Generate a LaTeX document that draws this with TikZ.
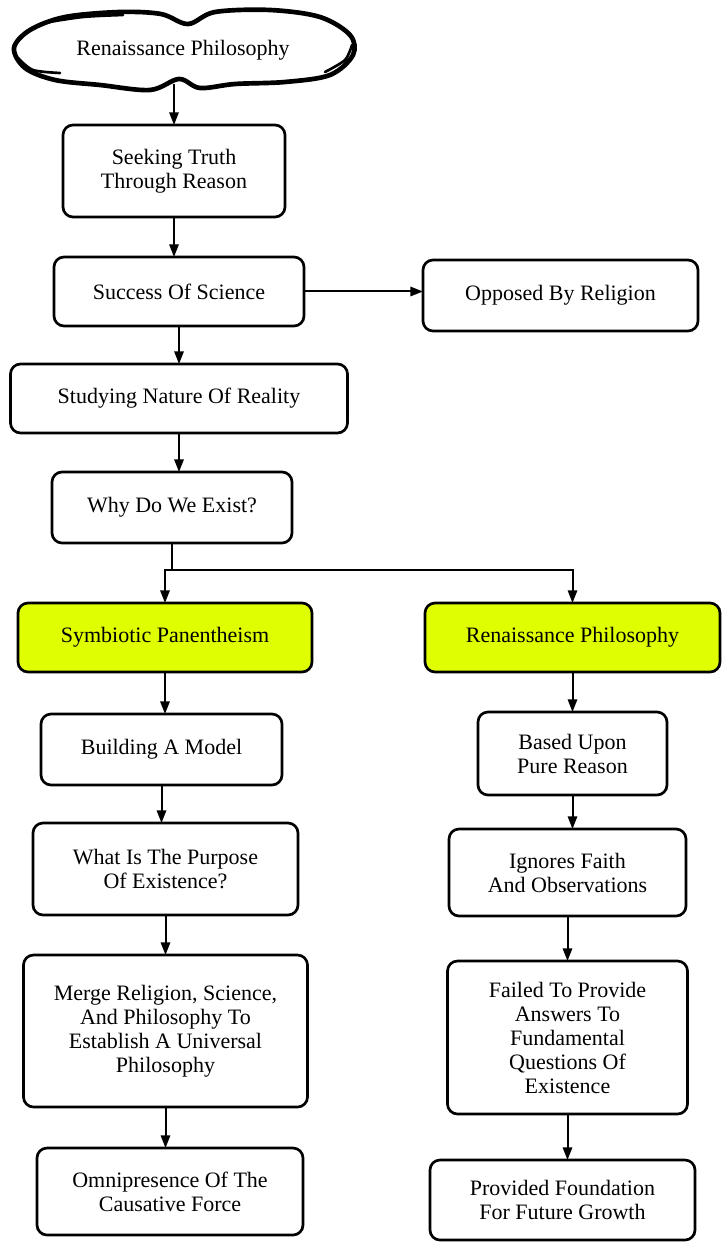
\documentclass[tikz,border=0pt]{standalone}
\usepackage{fontspec}
\setmainfont{Liberation Serif}
\usepackage{tikz}
\usetikzlibrary{arrows.meta,positioning}
\definecolor{cInk}{HTML}{000000}
\definecolor{cMark}{HTML}{DFFF00}
\tikzset{
  box/.style    = {draw=cInk, line width=2pt, rounded corners=7.5pt, align=center,
                   inner sep=3pt, outer sep=0pt, font=\fontsize{16.5}{18}\selectfont},
  hilite/.style = {box, fill=cMark},
  flow/.style   = {-{Triangle[length=9.5pt, width=7pt]}, line width=1.5pt, draw=cInk},
  link/.style   = {line width=1.5pt, draw=cInk},
  cloudline/.style = {draw=cInk, line width=3.5pt, line join=round, line cap=round},
}

\begin{document}
\begin{tikzpicture}
  \useasboundingbox (-137.25pt,37.5pt) rectangle (403.5pt,-895.5pt);
  % top of the chart
  \node[inner sep=0pt, outer sep=0pt, minimum width=257.25pt, minimum height=51pt,
        font=\fontsize{16.5}{18}\selectfont] (cloud) at (0,0)
    {Renaissance Philosophy};
  \begin{scope}[shift={(cloud.center)}, x=0.75pt, y=-0.75pt]
    \draw[cloudline] plot[smooth cycle, tension=0.55] coordinates {
      (-169,-2) (-153,-20) (-118,-33) (-63,-38) (-22,-36) (5,-26)
      (32,-38) (87,-40) (137,-33) (167,-15) (170,5) (147,25)
      (102,32) (52,34) (17,38) (-4,29) (-33,40) (-83,35)
      (-128,30) (-158,18)};
    \draw[cloudline, line width=2pt] plot[smooth] coordinates {
      (-165,8) (-150,20) (-123,23)};
    \draw[cloudline, line width=2pt] plot[smooth] coordinates {
      (142,22) (162,10) (169,-5)};
    \draw[cloudline, line width=2pt] plot[smooth] coordinates {
      (-140,-27) (-100,-33) (-60,-35)};
  \end{scope}
  \node[box, below=30.75pt of cloud, xshift=-6.75pt,
        minimum width=166.5pt, minimum height=69pt] (seek)
    {Seeking Truth\\Through Reason};
  \node[box, below=30pt of seek, xshift=3.75pt,
        minimum width=187.5pt, minimum height=51.75pt] (succ)
    {Success Of Science};
  \node[box, right=89.25pt of succ, yshift=-3pt,
        minimum width=206.25pt, minimum height=53.25pt] (opp)
    {Opposed By Religion};
  \node[box, below=28.5pt of succ,
        minimum width=252.75pt, minimum height=51.75pt] (stud)
    {Studying Nature Of Reality};
  \node[box, below=29.25pt of stud, xshift=-5.25pt,
        minimum width=180pt, minimum height=53.25pt] (why)
    {Why Do We Exist?};
  % two branches
  \node[hilite, below=45pt of why, xshift=-5.25pt,
        minimum width=220.5pt, minimum height=51.75pt] (sym)
    {Symbiotic Panentheism};
  \node[hilite, right=84.75pt of sym,
        minimum width=221.25pt, minimum height=51.75pt] (ren)
    {Renaissance Philosophy};
  \node[box, below=31.5pt of sym, xshift=-2.625pt,
        minimum width=180.75pt, minimum height=53.25pt] (build)
    {Building A Model};
  \node[box, below=28.5pt of build, xshift=3pt,
        minimum width=198.75pt, minimum height=69pt] (purp)
    {What Is The Purpose\\Of Existence?};
  \node[box, below=30pt of purp,
        minimum width=213pt, minimum height=114pt] (merge)
    {Merge Religion, Science,\\And Philosophy To\\Establish A Universal\\Philosophy};
  \node[box, below=30.75pt of merge, xshift=3.375pt,
        minimum width=199.5pt, minimum height=65.25pt] (omni)
    {Omnipresence Of The\\Causative Force};
  \node[box, below=30pt of ren,
        minimum width=141.75pt, minimum height=62.25pt] (based)
    {Based Upon\\Pure Reason};
  \node[box, below=25.5pt of based, xshift=-3.75pt,
        minimum width=177.75pt, minimum height=65.25pt] (ign)
    {Ignores Faith\\And Observations};
  \node[box, below=33.75pt of ign,
        minimum width=180pt, minimum height=114.75pt] (fail)
    {Failed To Provide\\Answers To\\Fundamental\\Questions Of\\Existence};
  \node[box, below=34.5pt of fail, xshift=-3.75pt,
        minimum width=198.75pt, minimum height=60pt] (prov)
    {Provided Foundation\\For Future Growth};
  \coordinate[below=20.25pt of why] (split);
  % connectors
  \draw[flow] (cloud.south -| seek.north) -- (seek.north);
  \draw[flow] (seek) -- (seek |- succ.north);
  \draw[flow] (succ) -- (succ -| opp.west);
  \draw[flow] (succ) -- (succ |- stud.north);
  \draw[flow] (stud) -- (stud |- why.north);
  \draw[link] (why) -- (split);
  \draw[flow] (split) -| (sym);
  \draw[flow] (split) -| (ren);
  \draw[flow] (sym) -- (sym |- build.north);
  \draw[flow] (build) -- (build |- purp.north);
  \draw[flow] (purp) -- (purp |- merge.north);
  \draw[flow] (merge) -- (merge |- omni.north);
  \draw[flow] (ren) -- (ren |- based.north);
  \draw[flow] (based) -- (based |- ign.north);
  \draw[flow] (ign) -- (ign |- fail.north);
  \draw[flow] (fail) -- (fail |- prov.north);
\end{tikzpicture}
\end{document}
